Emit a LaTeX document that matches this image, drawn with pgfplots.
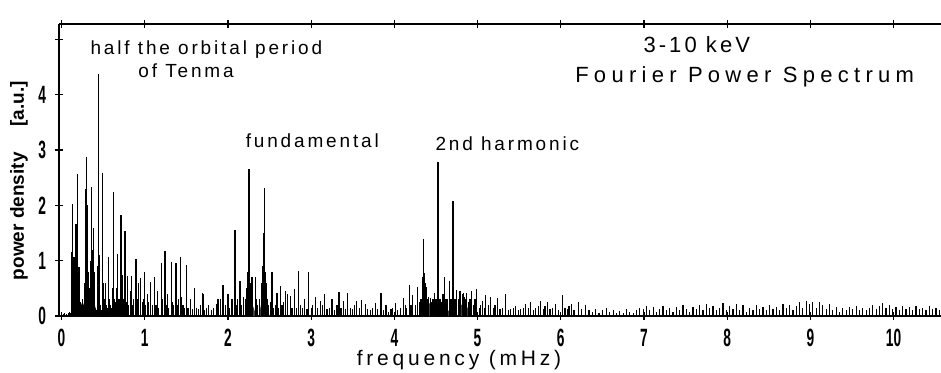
\documentclass[border=0pt]{standalone}
\usepackage{graphicx}
\usepackage{fontspec}
\setmainfont{Liberation Sans}
\newfontfamily\annfont[LetterSpace=15]{Liberation Sans}
\newfontfamily\titfont[LetterSpace=24]{Liberation Sans}
\newfontfamily\kevfont[LetterSpace=14]{Liberation Sans}
\newfontfamily\xlfont[LetterSpace=18]{Liberation Sans}
\usepackage{pgfplots}
\pgfplotsset{compat=1.18}
\newcommand\tl[1]{\scalebox{0.55}[1]{\fontsize{12.5}{12.5}\selectfont\bfseries #1}}
\begin{document}
\begin{tikzpicture}
\begin{axis}[
  scale only axis, width=441pt, height=146pt,
  xmin=-0.03, xmax=10.57, ymin=0, ymax=5.28,
  axis x line=box, axis y line=left, axis line style={-, line width=0.8pt},
  xtick={0,...,10}, xticklabels={\tl{0},\tl{1},\tl{2},\tl{3},\tl{4},\tl{5},\tl{6},\tl{7},\tl{8},\tl{9},\tl{10}},
  ytick={0,...,5}, yticklabels={\tl{0},\tl{1},\tl{2},\tl{3},\tl{4},},
  tick align=center, major tick length=4pt, tick style={black, line width=0.6pt},
  xticklabel style={yshift=-1pt},
  yticklabel style={xshift=-1pt},
  xlabel={\xlfont\fontsize{10.5}{10.5}\selectfont frequency (mHz)},
  xlabel style={at={(rel axis cs:0.4535,0)}, anchor=center, yshift=-22pt},
  ylabel={\fontsize{9.5}{9.5}\selectfont\bfseries power density\hspace{13pt}[a.u.]},
  ylabel style={at={(rel axis cs:-0.0454,0.464)}, anchor=center},
]
% dark clusters near the base
\addplot[fill=black!75, draw=none] coordinates {(0.14,0)(0.15,0.2)(0.18,0.3)(0.22,0.25)(0.26,0.2)(0.3,0.35)(0.34,0.25)(0.38,0.3)(0.42,0.1)(0.45,0)} \closedcycle;
\addplot[fill=black!75, draw=none] coordinates {(0.58,0)(0.62,0.15)(0.66,0.18)(0.7,0.1)(0.72,0)} \closedcycle;
\addplot[fill=black!75, draw=none] coordinates {(2.2,0)(2.24,0.2)(2.27,0.25)(2.31,0.15)(2.34,0)} \closedcycle;
\addplot[fill=black!75, draw=none] coordinates {(2.37,0)(2.41,0.3)(2.44,0.35)(2.47,0.2)(2.5,0)} \closedcycle;
\addplot[fill=black!75, draw=none] coordinates {(4.32,0)(4.36,0.3)(4.4,0.25)(4.45,0.2)(4.5,0.1)(4.52,0)} \closedcycle;
\addplot[fill=black!75, draw=none] coordinates {(4.55,0)(4.6,0.12)(4.65,0.1)(4.68,0)} \closedcycle;
\addplot[fill=black!75, draw=none] coordinates {(4.76,0)(4.8,0.2)(4.85,0.22)(4.9,0.1)(4.92,0)} \closedcycle;
% spikes
\addplot[ycomb, black, line width=0.6pt, mark=none] coordinates {
(0.02,0.03)(0.04,0.05)(0.06,0.04)(0.08,0.06)(0.10,0.08)(0.11,0.05)
(0.125,1.15)(0.13,2.03)(0.14,0.5)(0.15,1.07)(0.155,0.3)(0.16,0.25)(0.165,0.35)(0.17,1.2)(0.175,1.67)(0.18,0.4)
(0.19,2.57)(0.195,0.9)(0.20,0.5)(0.21,0.89)(0.215,0.3)(0.22,0.4)(0.23,0.25)(0.24,0.2)(0.25,0.3)(0.26,0.15)
(0.27,0.2)(0.28,0.6)(0.29,1.1)(0.295,2.3)(0.30,2.88)(0.305,1.2)(0.31,2.0)(0.315,1.1)(0.32,0.8)(0.33,0.3)
(0.34,0.5)(0.35,1.0)(0.358,2.34)(0.365,0.4)(0.37,1.2)(0.38,1.6)(0.385,0.5)(0.39,0.8)(0.40,0.2)(0.41,0.15)
(0.42,0.1)(0.43,0.9)(0.44,4.38)(0.45,0.3)(0.46,1.1)(0.47,0.2)(0.48,0.1)(0.495,2.59)(0.50,0.6)(0.51,0.3)
(0.52,0.15)(0.53,0.6)(0.54,0.2)(0.55,0.15)(0.567,1.07)(0.58,0.3)(0.59,0.2)(0.60,0.15)(0.61,0.5)(0.623,2.25)
(0.635,0.3)(0.645,0.25)(0.66,0.5)(0.675,1.13)(0.69,0.3)(0.70,0.25)(0.715,1.82)(0.73,0.75)(0.74,0.2)(0.75,0.3)
(0.763,1.53)(0.775,0.25)(0.79,0.72)(0.80,0.2)(0.81,0.15)(0.825,0.45)(0.84,0.72)(0.855,0.2)(0.87,0.3)(0.895,1.03)
(0.91,0.3)(0.93,0.6)(0.95,0.68)(0.97,0.25)(0.985,0.3)(1.0,0.79)(1.01,0.2)(1.03,0.4)(1.05,0.25)(1.07,0.62)
(1.09,0.2)(1.12,0.7)(1.135,0.2)(1.15,0.45)(1.17,0.15)(1.2,0.95)(1.21,0.3)(1.244,1.18)(1.26,0.2)(1.27,0.4)
(1.29,0.15)(1.32,0.98)(1.335,0.25)(1.35,0.2)(1.376,0.95)(1.39,0.2)(1.41,0.3)(1.43,1.06)(1.44,0.35)(1.46,0.2)
(1.48,0.15)(1.50,0.92)(1.52,0.15)(1.55,0.3)(1.57,0.12)(1.6,0.5)(1.62,0.15)(1.645,0.12)(1.67,0.2)(1.69,0.42)
(1.70,0.4)(1.72,0.1)(1.745,0.15)(1.77,0.2)(1.80,0.1)(1.83,0.15)(1.86,0.22)(1.88,0.3)(1.91,0.3)(1.94,0.56)
(1.97,0.2)(2.0,0.39)(2.02,0.15)(2.05,0.3)(2.085,1.56)(2.10,0.2)(2.12,0.3)(2.145,0.63)(2.16,0.2)(2.19,0.35)
(2.21,0.3)(2.23,0.5)(2.24,0.8)(2.254,2.65)(2.265,0.6)(2.275,0.4)(2.29,0.7)(2.30,0.3)(2.33,0.71)(2.345,0.3)
(2.36,0.2)(2.38,0.3)(2.40,0.6)(2.415,0.9)(2.43,1.5)(2.44,2.32)(2.45,0.8)(2.46,0.6)(2.475,0.3)(2.49,0.2)
(2.51,0.25)(2.53,0.8)(2.55,0.15)(2.57,0.2)(2.59,0.42)(2.61,0.15)(2.63,0.55)(2.65,0.2)(2.67,0.25)(2.69,0.45)
(2.72,0.39)(2.75,0.36)(2.77,0.15)(2.80,0.48)(2.82,0.15)(2.85,0.82)(2.87,0.2)(2.90,0.15)(2.92,0.3)(2.95,0.12)
(2.97,0.79)(3.0,0.15)(3.02,0.2)(3.05,0.34)(3.08,0.15)(3.11,0.28)(3.14,0.2)(3.16,0.39)(3.19,0.12)(3.22,0.15)
(3.25,0.31)(3.28,0.1)(3.31,0.2)(3.335,0.44)(3.36,0.15)(3.39,0.28)(3.41,0.12)(3.44,0.42)(3.47,0.15)(3.50,0.12)
(3.52,0.2)(3.55,0.28)(3.58,0.15)(3.61,0.29)(3.65,0.22)(3.68,0.12)(3.71,0.1)(3.74,0.15)(3.77,0.23)(3.80,0.12)
(3.84,0.41)(3.87,0.1)(3.90,0.2)(3.93,0.08)(3.96,0.12)(3.98,0.15)(4.01,0.24)(4.04,0.1)(4.07,0.15)(4.11,0.33)
(4.13,0.2)(4.15,0.15)(4.18,0.56)(4.20,0.2)(4.22,0.38)(4.25,0.2)(4.28,0.52)(4.30,0.25)(4.32,0.3)(4.34,0.7)
(4.35,1.4)(4.365,0.78)(4.375,0.6)(4.39,0.52)(4.40,0.3)(4.415,0.35)(4.43,0.33)(4.45,0.25)(4.465,0.3)(4.48,0.42)
(4.50,0.3)(4.515,0.5)(4.525,2.78)(4.535,1.4)(4.55,0.3)(4.57,0.25)(4.585,0.4)(4.60,0.71)(4.62,0.3)(4.64,0.3)
(4.66,0.63)(4.68,0.3)(4.695,0.8)(4.705,2.08)(4.715,1.0)(4.73,0.3)(4.75,0.47)(4.77,0.3)(4.79,0.45)(4.80,0.35)
(4.815,0.4)(4.83,0.42)(4.845,0.35)(4.86,0.3)(4.87,0.42)(4.89,0.25)(4.91,0.3)(4.93,0.45)(4.95,0.2)(4.97,0.3)
(4.99,0.48)(5.02,0.15)(5.04,0.2)(5.06,0.28)(5.08,0.15)(5.10,0.38)(5.13,0.2)(5.16,0.35)(5.19,0.15)(5.21,0.2)
(5.24,0.33)(5.27,0.12)(5.30,0.15)(5.34,0.39)(5.37,0.1)(5.40,0.12)(5.43,0.15)(5.46,0.18)(5.49,0.1)(5.52,0.12)
(5.55,0.15)(5.58,0.22)(5.61,0.15)(5.64,0.25)(5.67,0.1)(5.70,0.15)(5.73,0.18)(5.76,0.28)(5.79,0.12)(5.81,0.18)
(5.84,0.25)(5.87,0.12)(5.90,0.15)(5.94,0.22)(5.97,0.1)(6.02,0.38)(6.05,0.15)(6.08,0.12)(6.10,0.18)(6.13,0.22)
(6.16,0.1)(6.21,0.26)(6.25,0.12)(6.30,0.2)(6.34,0.1)(6.38,0.08)(6.42,0.12)(6.46,0.06)(6.50,0.1)(6.55,0.14)
(6.59,0.07)(6.63,0.1)(6.67,0.05)(6.71,0.09)(6.75,0.06)(6.79,0.12)(6.83,0.08)(6.87,0.06)(6.91,0.1)(6.95,0.15)
(6.99,0.12)(7.03,0.18)(7.07,0.1)(7.11,0.16)(7.15,0.08)(7.19,0.12)(7.23,0.18)(7.27,0.1)(7.31,0.14)(7.35,0.08)
(7.39,0.16)(7.43,0.1)(7.47,0.2)(7.51,0.12)(7.55,0.08)(7.59,0.17)(7.63,0.12)(7.67,0.2)(7.71,0.1)(7.75,0.22)
(7.79,0.14)(7.83,0.18)(7.87,0.1)(7.91,0.14)(7.95,0.24)(7.99,0.1)(8.03,0.18)(8.07,0.12)(8.11,0.22)(8.15,0.1)
(8.19,0.2)(8.23,0.08)(8.27,0.14)(8.31,0.1)(8.35,0.2)(8.39,0.12)(8.43,0.16)(8.47,0.1)(8.51,0.2)(8.55,0.12)
(8.59,0.16)(8.63,0.1)(8.67,0.22)(8.71,0.14)(8.75,0.2)(8.79,0.1)(8.83,0.18)(8.87,0.25)(8.91,0.15)(8.95,0.28)
(8.99,0.22)(9.03,0.26)(9.07,0.14)(9.11,0.25)(9.15,0.2)(9.19,0.12)(9.23,0.22)(9.27,0.1)(9.31,0.16)(9.35,0.08)
(9.39,0.14)(9.43,0.1)(9.47,0.16)(9.51,0.12)(9.55,0.18)(9.59,0.1)(9.63,0.14)(9.67,0.1)(9.71,0.15)(9.75,0.2)
(9.79,0.12)(9.83,0.18)(9.87,0.24)(9.91,0.14)(9.95,0.2)(9.99,0.12)(10.03,0.16)(10.07,0.1)(10.11,0.18)(10.15,0.12)
(10.19,0.16)(10.23,0.1)(10.27,0.18)(10.31,0.12)(10.35,0.14)(10.39,0.1)(10.43,0.18)(10.47,0.12)(10.51,0.14)(10.55,0.1)
};
\node[anchor=base west, inner sep=0pt, font=\annfont\fontsize{9.5}{9.5}\selectfont] at (axis cs:0.345,4.72) {half the orbital period};
\node[anchor=base west, inner sep=0pt, font=\annfont\fontsize{9.5}{9.5}\selectfont] at (axis cs:0.92,4.32) {of Tenma};
\node[anchor=base west, inner sep=0pt, font=\annfont\fontsize{9.5}{9.5}\selectfont] at (axis cs:2.21,3.04) {fundamental};
\node[anchor=base west, inner sep=0pt, font=\annfont\fontsize{9.5}{9.5}\selectfont] at (axis cs:4.49,3.0) {2nd harmonic};
\node[anchor=base west, inner sep=0pt, font=\kevfont\fontsize{11}{11}\selectfont] at (axis cs:6.99,4.76) {3-10 keV};
\node[anchor=base west, inner sep=0pt, font=\titfont\fontsize{11}{11}\selectfont] at (axis cs:6.17,4.23) {Fourier Power Spectrum};
\end{axis}
\pgfresetboundingbox
\path[use as bounding box] (-29.5pt,-28pt) rectangle (441pt,158pt);
\end{tikzpicture}
\end{document}
